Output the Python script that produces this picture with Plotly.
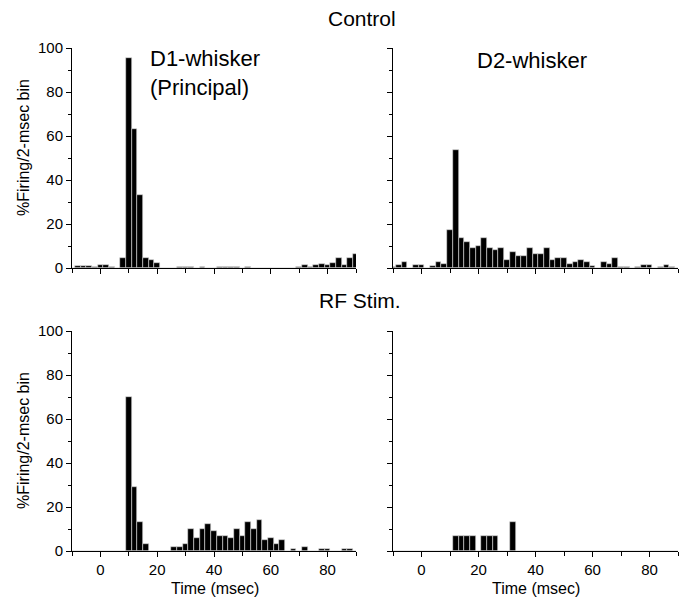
import plotly.graph_objects as go

# Bin centres (2-ms bins), msec
bin_centers = list(range(-10, 92, 2))

# Control, D1-whisker (Principal)
control_d1 = [0, 1, 1, 1, 0.3, 1.5, 1.5, 0.5, 0, 4.5,
              95.5, 63, 33, 4.5, 3.5, 2.5, 0, 0, 0, 0.3,
              0.3, 0.6, 0, 0.4, 0, 0, 0.6, 0.3, 0.5, 0.3,
              0, 0.4, 0, 0, 0, 0, 0, 0, 0, 0,
              0.3, 1.5, 0.5, 1.2, 2, 1.3, 2.5, 4.5, 1.3, 4.5,
              6.5]

# Control, D2-whisker
control_d2 = [0.6, 1.5, 2.6, 0, 1.5, 1.5, 0, 0.8, 2.6, 1.7,
              17.4, 53.5, 13.8, 12, 9.2, 10.2, 13.8, 9.2, 8.2, 9.2,
              3.8, 7.4, 5.5, 5.5, 9.2, 6.5, 6.5, 9.2, 3.8, 4.7,
              4.7, 1.7, 2.6, 3.8, 2.6, 0.8, 0, 2.6, 1.7, 4.7,
              0.6, 0.6, 0, 0.6, 1.5, 1.5, 0, 0.6, 1.5, 0.6,
              0]

# RF Stim., D1-whisker
rf_d1 = [0, 0, 0, 0, 0, 0, 0, 0, 0, 0,
         70.2, 29.2, 13.2, 3, 0, 0, 0, 0, 1.8, 1.8,
         3, 10, 5.9, 10, 12.1, 9.1, 7, 7, 5.9, 10,
         7, 13.2, 10, 14.1, 5, 5.9, 3, 5, 0, 0.9,
         0, 1.8, 0, 0, 0.9, 0.9, 0, 0, 0.9, 0.9,
         0]

# RF Stim., D2-whisker
rf_d2 = [0, 0, 0, 0, 0, 0, 0, 0, 0, 0,
         0, 6.67, 6.67, 6.67, 6.67, 0, 6.67, 6.67, 6.67, 0,
         0, 13.33, 0, 0, 0, 0, 0, 0, 0, 0,
         0, 0, 0, 0, 0, 0, 0, 0, 0, 0,
         0, 0, 0, 0, 0, 0, 0, 0, 0, 0,
         0]

x_range = [-10, 90]
y_range = [0, 100]
x_tickvals = [0, 20, 40, 60, 80]
y_tickvals = [0, 20, 40, 60, 80, 100]

row_titles = ["Control", "RF Stim."]
panel_labels = ["D1-whisker<br>(Principal)", "D2-whisker"]
y_title = "%Firing/2-msec bin"
x_title = "Time (msec)"

W, H = 686, 600
FONT = "Liberation Sans, Arial, Helvetica, sans-serif"

def px_x(p):
    return p / W

def px_y(p):
    return 1 - p / H

# panel pixel boxes: (left, right, top, bottom)
boxes = {
    1: (72, 356, 48, 268),
    2: (393, 678, 48, 268),
    3: (72, 356, 331, 551),
    4: (393, 678, 331, 551),
}
series = {1: control_d1, 2: control_d2, 3: rf_d1, 4: rf_d2}

fig = go.Figure()
layout = dict(
    width=W, height=H,
    margin=dict(l=0, r=0, t=0, b=0, autoexpand=False),
    paper_bgcolor="white", plot_bgcolor="white",
    showlegend=False, bargap=0,
    font=dict(family=FONT, color="black", size=15),
)

for i in range(1, 5):
    l, r, t, b = boxes[i]
    xa = "x" if i == 1 else f"x{i}"
    ya = "y" if i == 1 else f"y{i}"
    fig.add_trace(go.Bar(
        x=bin_centers, y=series[i], width=2,
        marker=dict(color="black", line=dict(color="#dddddd", width=0.6)),
        xaxis=xa, yaxis=ya,
    ))
    bottom_row = i in (3, 4)
    left_col = i in (1, 3)
    layout["xaxis" if i == 1 else f"xaxis{i}"] = dict(
        domain=[px_x(l), px_x(r)], anchor=ya, range=x_range,
        automargin=False,
        showline=True, linecolor="black", linewidth=1,
        showgrid=False, zeroline=False,
        ticks="outside", ticklen=5, tickwidth=1, tickcolor="black",
        tickvals=x_tickvals, showticklabels=bottom_row,
        tickfont=dict(size=15),
        minor=dict(tickvals=[-10, 10, 30, 50, 70, 90], ticks="outside",
                   ticklen=4, tickwidth=1, tickcolor="black", showgrid=False),
    )
    layout["yaxis" if i == 1 else f"yaxis{i}"] = dict(
        domain=[px_y(b), px_y(t)], anchor=xa, range=y_range,
        automargin=False,
        showline=True, linecolor="black", linewidth=1,
        showgrid=False, zeroline=False,
        ticks="outside", ticklen=5, tickwidth=1, tickcolor="black",
        tickvals=y_tickvals, showticklabels=left_col,
        tickfont=dict(size=15),
        minor=dict(tickvals=[10, 30, 50, 70, 90], ticks="outside",
                   ticklen=3, tickwidth=1, tickcolor="black", showgrid=False),
    )

annotations = [
    dict(text=row_titles[0], x=px_x(362), y=px_y(18.5), xref="paper", yref="paper",
         xanchor="center", yanchor="middle", showarrow=False, font=dict(size=21)),
    dict(text=row_titles[1], x=px_x(360), y=px_y(300), xref="paper", yref="paper",
         xanchor="center", yanchor="middle", showarrow=False, font=dict(size=21)),
    dict(text=panel_labels[0], x=px_x(148), y=px_y(44), xref="paper", yref="paper",
         xanchor="left", yanchor="top", align="left", showarrow=False,
         font=dict(size=22)),
    dict(text=panel_labels[1], x=px_x(532), y=px_y(46), xref="paper", yref="paper",
         xanchor="center", yanchor="top", showarrow=False, font=dict(size=22)),
    dict(text=y_title, x=px_x(23), y=px_y(148), xref="paper", yref="paper",
         xanchor="center", yanchor="middle", textangle=-90, showarrow=False,
         font=dict(size=16)),
    dict(text=y_title, x=px_x(23), y=px_y(441), xref="paper", yref="paper",
         xanchor="center", yanchor="middle", textangle=-90, showarrow=False,
         font=dict(size=16)),
    dict(text=x_title, x=px_x(215), y=px_y(588), xref="paper", yref="paper",
         xanchor="center", yanchor="middle", showarrow=False, font=dict(size=16)),
    dict(text=x_title, x=px_x(536), y=px_y(588), xref="paper", yref="paper",
         xanchor="center", yanchor="middle", showarrow=False, font=dict(size=16)),
]
layout["annotations"] = annotations

fig.update_layout(**layout)
fig.write_html("out.html")
